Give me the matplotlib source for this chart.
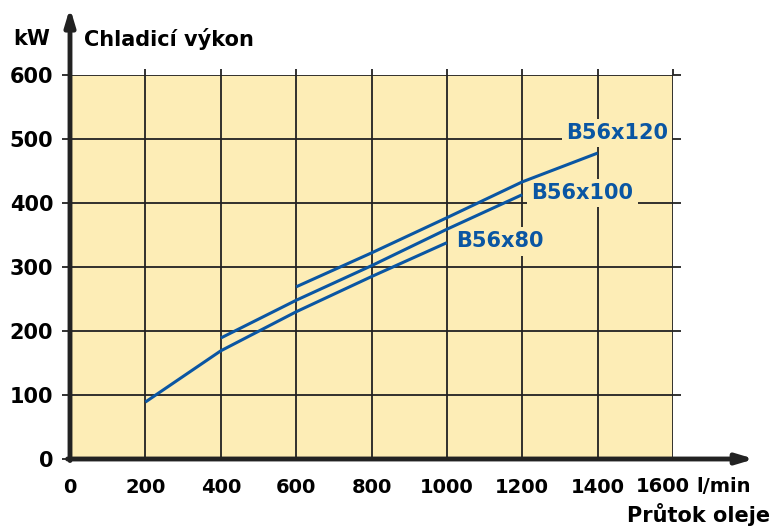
import numpy as np
import matplotlib.pyplot as plt

# flow (l/min) and cooling capacity (kW)
flow_80 = [200, 400, 600, 800, 1000]
kw_80 = [89, 169, 230, 285, 338]
flow_100 = [400, 600, 800, 1000, 1200]
kw_100 = [189, 248, 302, 359, 413]
flow_120 = [600, 800, 1000, 1200, 1400]
kw_120 = [269, 322, 377, 433, 478]

names = ['B56x80', 'B56x100', 'B56x120']
name_pos = [(1141, 340), (1360, 416), (1452, 509)]

xticks = [0, 200, 400, 600, 800, 1000, 1200, 1400, 1600]
yticks = [0, 100, 200, 300, 400, 500, 600]

bg = '#fdedb6'
blue = '#0a56a3'
fam = 'DejaVu Sans'
xfont = {'family': fam, 'weight': 'bold', 'size': 14}
yfont = {'family': fam, 'weight': 'bold', 'size': 15}
tfont = {'family': fam, 'weight': 'bold', 'size': 15}

fig = plt.figure(figsize=(7.74, 5.26), dpi=100)
ax = fig.add_axes([70/774, 67/526, 603/774, 384/526])
ax.set_facecolor(bg)
ax.set_xlim(0, 1600)
ax.set_ylim(0, 600)

for s in ax.spines.values():
    s.set_visible(False)

ax.set_xticks(xticks)
ax.set_yticks(yticks)
ax.grid(True, color='#222222', linewidth=1.3)
ax.tick_params(axis='y', left=True, right=True, length=6, width=1.3,
               color='#222222', pad=6)
ax.tick_params(axis='x', bottom=False, top=True, length=4, width=1.3,
               color='#222222', pad=10)
ax.set_yticklabels([str(v) for v in yticks], fontdict=yfont)
ax.set_xticklabels([str(v) for v in xticks[:-1]] + [''], fontdict=xfont)

ax.plot(flow_80, kw_80, color=blue, lw=2.2, solid_capstyle='butt', zorder=6)
ax.plot(flow_100, kw_100, color=blue, lw=2.2, solid_capstyle='butt', zorder=6)
ax.plot(flow_120, kw_120, color=blue, lw=2.2, solid_capstyle='butt', zorder=6)

for n, (x, y) in zip(names, name_pos):
    ax.text(x, y, n, color=blue, fontsize=15, family=fam, fontweight='bold',
            ha='center', va='center', zorder=5,
            bbox=dict(facecolor=bg, edgecolor='none', pad=3))

# axis arrows
ax.annotate('', xy=(0, 1.175), xytext=(0, -0.004), xycoords='axes fraction',
            arrowprops=dict(arrowstyle='-|>,head_length=1.0,head_width=0.3',
                            color='#222222', lw=3.5, shrinkA=0, shrinkB=0))
ax.annotate('', xy=(1.135, 0), xytext=(-0.004, 0), xycoords='axes fraction',
            arrowprops=dict(arrowstyle='-|>,head_length=1.0,head_width=0.3',
                            color='#222222', lw=3.5, shrinkA=0, shrinkB=0))

fig.text(50/774, 1 - 39/526, 'kW', ha='right', va='center', **tfont)
fig.text(84/774, 1 - 39/526, 'Chladicí výkon', ha='left', va='center', **tfont)
fig.text(690/774, 1 - 487/526, '1600', ha='right', va='center', **xfont)
fig.text(696/774, 1 - 487/526, 'l/min', ha='left', va='center', **xfont)
fig.text(770/774, 1 - 515/526, 'Průtok oleje', ha='right', va='center', **tfont)

fig.savefig('out.png', dpi=100, facecolor='white')
